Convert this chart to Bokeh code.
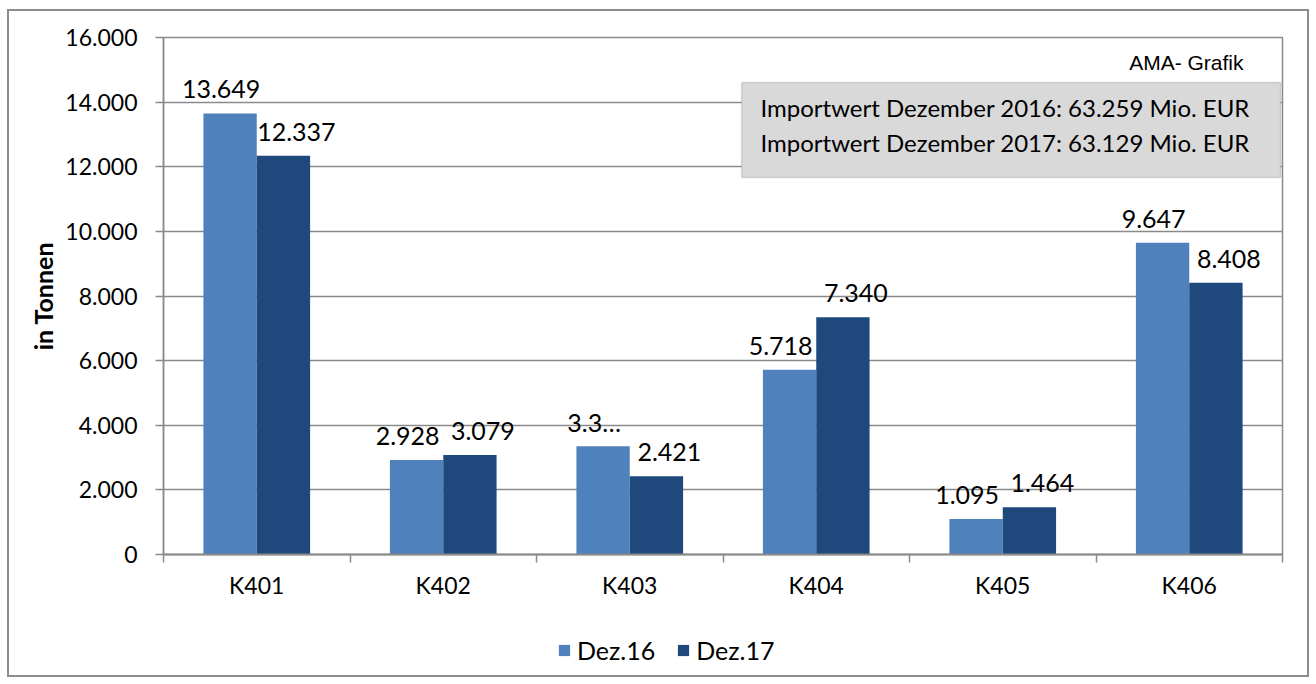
from bokeh.plotting import figure
from bokeh.layouts import column
from bokeh.models import (ColumnDataSource, Range1d, FixedTicker, Legend, LegendItem,
                          BoxAnnotation, Label)
from bokeh.core.properties import value
from bokeh.embed import file_html
from bokeh.resources import INLINE

# ---------------- data ----------------
categories = ["K401", "K402", "K403", "K404", "K405", "K406"]
dez16 = [13649, 2928, 3350, 5718, 1095, 9647]
dez17 = [12337, 3079, 2421, 7340, 1464, 8408]
series_names = ["Dez.16", "Dez.17"]
y_ticks = [0, 2000, 4000, 6000, 8000, 10000, 12000, 14000, 16000]
info_lines = ["Importwert Dezember 2016: 63.259 Mio. EUR",
              "Importwert Dezember 2017: 63.129 Mio. EUR"]
source_note = "AMA- Grafik"
y_label = "in Tonnen"


def de_fmt(v):
    return f"{int(round(v)):,}".replace(",", ".")


labels16 = [de_fmt(v) for v in dez16]
labels17 = [de_fmt(v) for v in dez17]
labels16[2] = "3.3…"  # label is truncated in the original chart

# ---------------- styling ----------------
C16 = "#4f81bd"
C17 = "#1f497d"
GRID = "#8a8a8a"
FONT = "Lato"

n = len(categories)
centers = [i + 0.5 for i in range(n)]
DODGE = 0.143
BAR_W = 0.286

src16 = ColumnDataSource(dict(x=[c - DODGE for c in centers], top=dez16, lab=labels16))
src17 = ColumnDataSource(dict(x=[c + DODGE for c in centers], top=dez17, lab=labels17))

p = figure(width=1298, height=610, output_backend="svg", toolbar_location=None,
           x_range=Range1d(0, n), y_range=Range1d(0, 16000))
p.min_border_left = 154
p.min_border_right = 25
p.min_border_top = 26
p.min_border_bottom = 67
p.background_fill_color = "white"
p.border_fill_color = "white"
p.outline_line_color = GRID
p.outline_line_width = 1.5

r16 = p.vbar(x="x", top="top", width=BAR_W, source=src16, fill_color=C16, line_color=None)
r17 = p.vbar(x="x", top="top", width=BAR_W, source=src17, fill_color=C17, line_color=None)

for src, xo in ((src16, -9), (src17, 13)):
    p.text(x="x", y="top", text="lab", source=src, x_offset=xo, y_offset=-24,
           text_align="center", text_baseline="alphabetic",
           text_font=value(FONT), text_font_size="25px", text_color="black")

# y axis
p.yaxis.ticker = FixedTicker(ticks=y_ticks)
p.yaxis.major_label_overrides = {t: de_fmt(t) for t in y_ticks}
p.yaxis.major_label_text_font = FONT
p.yaxis.major_label_text_font_size = "23px"
p.yaxis.major_label_text_color = "black"
p.yaxis.major_tick_out = 8
p.yaxis.major_tick_in = 0
p.yaxis.major_label_standoff = 18
p.yaxis.minor_tick_line_color = None
p.yaxis.axis_line_color = GRID
p.yaxis.axis_line_width = 1.5
p.yaxis.major_tick_line_color = GRID
p.yaxis.major_tick_line_width = 1.5
p.yaxis.axis_label = y_label
p.yaxis.axis_label_text_font = FONT
p.yaxis.axis_label_text_font_style = "bold"
p.yaxis.axis_label_text_font_size = "25px"
p.yaxis.axis_label_text_color = "black"
p.yaxis.axis_label_standoff = 4

# x axis: labels at centers, tick marks at category boundaries
p.xaxis.ticker = FixedTicker(ticks=centers, minor_ticks=list(range(n + 1)))
p.xaxis.major_label_overrides = {c: cat for c, cat in zip(centers, categories)}
p.xaxis.major_label_text_font = FONT
p.xaxis.major_label_text_font_size = "23px"
p.xaxis.major_label_text_color = "black"
p.xaxis.major_tick_out = 0
p.xaxis.major_tick_in = 0
p.xaxis.major_label_standoff = 8
p.xaxis.minor_tick_out = 8
p.xaxis.minor_tick_in = 0
p.xaxis.minor_tick_line_color = GRID
p.xaxis.minor_tick_line_width = 1.5
p.xaxis.axis_line_color = GRID
p.xaxis.axis_line_width = 2

p.xgrid.grid_line_color = None
p.ygrid.ticker = FixedTicker(ticks=y_ticks)
p.ygrid.grid_line_color = GRID
p.ygrid.grid_line_width = 1.5

# info box
p.add_layout(BoxAnnotation(left=3.1, right=5.99, bottom=11668, top=14608,
                           fill_color="#d9d9d9", fill_alpha=1.0,
                           line_color="#8c8c8c", line_width=1.5, level="overlay"))
for txt, yy in zip(info_lines, (13833, 12750)):
    p.add_layout(Label(x=3.201, y=yy, text=txt, text_font=FONT, text_font_size="24px",
                       text_baseline="middle", text_align="left", text_color="black",
                       level="overlay"))
p.add_layout(Label(x=5.791, y=15226, text=source_note, text_font="Liberation Sans",
                   text_font_size="21px", text_baseline="middle", text_align="right",
                   text_color="black"))

# legend strip below the chart (hidden copies of the bar series feed the legend)
lg = figure(width=1298, height=54, output_backend="svg", toolbar_location=None,
            x_range=Range1d(0, n), y_range=Range1d(0, 16000),
            x_axis_location=None, y_axis_location=None, min_border=0)
lg.outline_line_color = None
lg.grid.grid_line_color = None
lg.background_fill_color = "white"
lg.border_fill_color = "white"
d16 = lg.vbar(x="x", top="top", width=BAR_W, source=src16, fill_color=C16, line_color=None,
              visible=False)
d17 = lg.vbar(x="x", top="top", width=BAR_W, source=src17, fill_color=C17, line_color=None,
              visible=False)
legend = Legend(items=[LegendItem(label=series_names[0], renderers=[d16]),
                       LegendItem(label=series_names[1], renderers=[d17])],
                orientation="horizontal", location=(394, 10),
                label_text_font=FONT, label_text_font_size="25px", label_text_color="black",
                glyph_width=14, glyph_height=14, label_standoff=6, spacing=21,
                padding=0, margin=0, border_line_color=None,
                background_fill_alpha=0, inactive_fill_alpha=0)
lg.add_layout(legend, "center")

layout = column(p, lg, spacing=0)
layout.styles = {"border": "2px solid #8c8c8c", "margin-left": "7px", "margin-top": "9px",
                 "background-color": "white"}

open("out.html", "w").write(file_html(layout, INLINE))
